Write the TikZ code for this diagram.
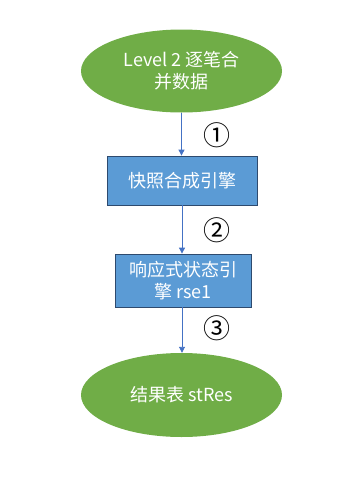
\documentclass[tikz,border=0pt]{standalone}
\usepackage{fontspec}
\setmainfont{Noto Sans CJK SC}
\usetikzlibrary{shapes.geometric,arrows.meta}
\definecolor{ogreen}{HTML}{70AD47}
\definecolor{oblue}{HTML}{5B9BD5}
\definecolor{oedge}{HTML}{2E4A6E}
\definecolor{oline}{HTML}{4472C4}
\tikzset{
  term/.style={ellipse, fill=ogreen, draw=none, minimum width=201pt, minimum height=83pt, inner sep=0pt, text=white, font=\fontsize{18}{22}\selectfont, align=center},
  proc/.style={rectangle, fill=oblue, draw=oedge, line width=0.8pt, inner sep=0pt, text=white, font=\fontsize{18}{22}\selectfont, align=center},
  flow/.style={draw=oline, line width=0.9pt, -{Triangle[length=6pt,width=6pt]}},
  num/.style={font=\fontsize{27}{27}\selectfont, inner sep=0pt}
}
\begin{document}
\begin{tikzpicture}[x=1pt,y=-1pt]
\useasboundingbox (0,0) rectangle (360,477);
\node[term] (e1) at (181.5,71) {Level 2 逐笔合\\并数据};
\node[proc, minimum width=150pt, minimum height=49pt] (r1) at (182,180.5) {快照合成引擎};
\node[proc, minimum width=136pt, minimum height=53pt] (r2) at (183,280.5) {响应式状态引\\擎 rse1};
\node[term, minimum height=84pt] (e2) at (181.5,395) {结果表 stRes};
\draw[flow] (e1.south) -- (e1.south |- r1.north);
\draw[flow] (r1.south) -- (r1.south |- r2.north);
\draw[flow] (r1.south |- r2.south) -- (r1.south |- e2.north);
\node[num] (n1) at (217,135) {①};
\node[num] (n2) at (217,230) {②};
\node[num] (n3) at (217,328) {③};
\end{tikzpicture}
\end{document}
